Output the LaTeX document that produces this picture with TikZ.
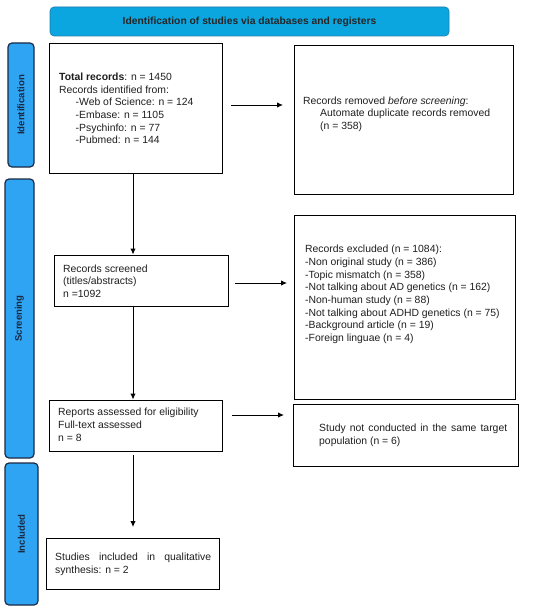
\documentclass[tikz,border=0pt]{standalone}
\usepackage{fontspec}
\setmainfont{Liberation Sans}
\usetikzlibrary{arrows.meta}
\definecolor{banner}{HTML}{0BA5DF}
\definecolor{bannerline}{HTML}{1E7FB0}
\definecolor{side}{HTML}{2EA4F2}
\definecolor{sideline}{HTML}{1B2A44}
\hyphenpenalty=10000\relax
\exhyphenpenalty=10000\relax
\tikzset{
  box/.style={draw=black, line width=1pt, fill=white},
  sidebar/.style={draw=sideline, line width=1.2pt, fill=side, rounded corners=4pt},
  sidelabel/.style={rotate=90, font=\fontsize{9.6}{10}\selectfont\bfseries, text=sideline},
  txt/.style={font=\fontsize{10.4}{12.7}\selectfont, align=left, inner sep=0pt, anchor=west, text=black!88},
  arr/.style={-{Latex[length=6pt,width=5.5pt]}, line width=1pt}
}
\begin{document}
\begin{tikzpicture}[x=1pt,y=-1pt]
\useasboundingbox (0,0) rectangle (550,610);
% banner
\node[draw=bannerline, line width=0.6pt, fill=banner, rounded corners=4pt, minimum width=399pt, minimum height=29pt, font=\fontsize{10.3}{12}\selectfont\bfseries, text=black!85] (banner) at (249.5,21.5) {Identification of studies via databases and registers};
% side bars
\node[sidebar, minimum width=26pt, minimum height=124pt] (sideId) at (21,105) {};
\node[sidelabel] at (sideId) {Identification};
\node[sidebar, minimum width=29pt, minimum height=279pt] (sideSc) at (19.5,318.5) {};
\node[sidelabel] at (sideSc) {Screening};
\node[sidebar, minimum width=33pt, minimum height=142pt] (sideIn) at (21.5,534) {};
\node[sidelabel] at (sideIn) {Included};
% boxes
\node[box, minimum width=173pt, minimum height=129pt] (total) at (135.5,108.5) {};
\node[txt] at (59,108.5) {\textbf{Total records}: n = 1450\\Records identified from:\\\hspace{16.5pt}-Web of Science: n = 124\\\hspace{16.5pt}-Embase: n = 1105\\\hspace{16.5pt}-Psychinfo: n = 77\\\hspace{16.5pt}-Pubmed: n = 144};
\node[box, minimum width=219pt, minimum height=148pt] (removed) at (403.5,120) {};
\node[txt] at (303,114.3) {Records removed \textit{before screening}:\\\hspace{17pt}Automate duplicate records removed\\\hspace{17pt}(n = 358)};
\node[box, minimum width=174pt, minimum height=51pt] (screened) at (141,280.5) {};
\node[txt] at (63,281) {Records screened\\(titles/abstracts)\\n =1092};
\node[box, minimum width=221pt, minimum height=184pt] (excluded) at (404.5,307) {};
\node[txt] at (305,294.5) {Records excluded (n = 1084):\\-Non original study (n = 386)\\-Topic mismatch (n = 358)\\-Not talking about AD genetics (n = 162)\\-Non-human study (n = 88)\\-Not talking about ADHD genetics (n = 75)\\-Background article (n = 19)\\-Foreign linguae (n = 4)};
\node[box, minimum width=173pt, minimum height=51pt] (reports) at (135.5,425.5) {};
\node[txt] at (58,424.8) {Reports assessed for eligibility\\Full-text assessed\\n = 8};
\node[box, minimum width=225pt, minimum height=62pt] (notcond) at (405.5,435) {};
\node[txt, text width=188pt, align=justify] at (319,435.3) {Study not conducted in the same target population (n = 6)};
\node[box, minimum width=173pt, minimum height=51pt] (incl) at (132.5,563.5) {};
\node[txt, text width=156pt, align=justify] at (55,564.2) {Studies included in qualitative synthesis: n = 2};
% connectors
\coordinate (a1s) at (231,105); \coordinate (a1e) at (283,105);
\draw[arr] (a1s) -- (a1e);
\coordinate (a2s) at (235,283); \coordinate (a2e) at (287,283);
\draw[arr] (a2s) -- (a2e);
\coordinate (a3s) at (232,415); \coordinate (a3e) at (284,415);
\draw[arr] (a3s) -- (a3e);
\draw[arr] (total.south -| 133,0) -- (screened.north -| 133,0);
\draw[arr] (screened.south -| 133,0) -- (reports.north -| 133,0);
\coordinate (a4s) at (133,455); \coordinate (a4e) at (133,527);
\draw[arr] (a4s) -- (a4e);
\end{tikzpicture}
\end{document}
